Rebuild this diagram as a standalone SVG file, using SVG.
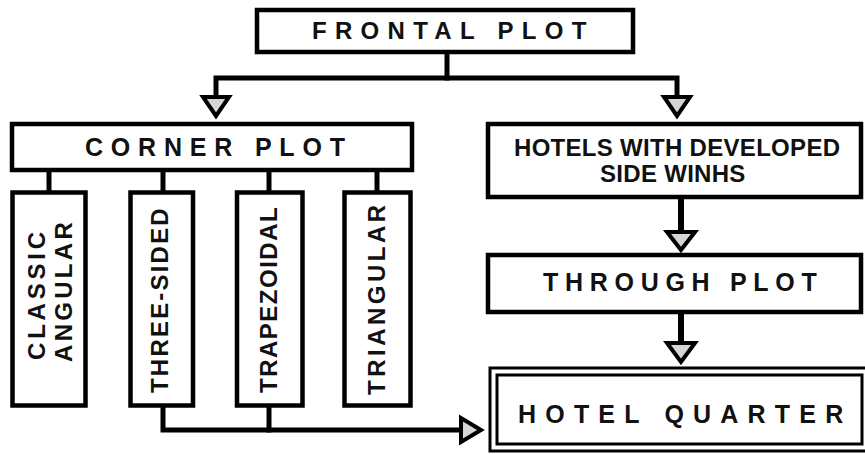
<svg xmlns="http://www.w3.org/2000/svg" width="865" height="454" viewBox="0 0 865 454">
<style>
.box{fill:#fff;stroke:#000;stroke-width:4.5}
.dbl{fill:#fff;stroke:#000;stroke-width:3}
.ln{fill:none;stroke:#000;stroke-width:5;stroke-linecap:square}
.ar{fill:#d6d6d6;stroke:#000;stroke-width:4;stroke-linejoin:miter}
text{font-family:"Liberation Sans",Arial,sans-serif;font-weight:bold;fill:#111}
</style>
<rect width="865" height="454" fill="#fff"/>
<g id="connectors">
<polyline class="ln" points="447,54 447,78"/>
<polyline class="ln" points="216,97 216,78 677,78 677,97"/>
<polygon class="ar" points="203,97 229,97 216,116"/>
<polygon class="ar" points="664,97 690,97 677,116"/>
<line class="ln" x1="49" y1="172" x2="49" y2="190"/>
<line class="ln" x1="163" y1="172" x2="163" y2="190"/>
<line class="ln" x1="269" y1="172" x2="269" y2="190"/>
<line class="ln" x1="377" y1="172" x2="377" y2="190"/>
<polyline class="ln" points="163,409 163,430 460,430"/>
<line class="ln" x1="269" y1="409" x2="269" y2="430"/>
<polygon class="ar" points="461,418 461,442 481,430"/>
<line class="ln" x1="681" y1="199" x2="681" y2="232" style="stroke-width:6"/>
<polygon class="ar" points="667,232 695,232 681,250"/>
<line class="ln" x1="681" y1="314" x2="681" y2="343" style="stroke-width:6"/>
<polygon class="ar" points="667,343 695,343 681,362"/>
</g>
<g id="frontal">
<rect class="box" x="257" y="10" width="376" height="42"/>
<text x="312" y="39" font-size="24" letter-spacing="8.3">FRONTAL PLOT</text>
</g>
<g id="corner">
<rect class="box" x="12" y="124" width="400" height="46"/>
<text x="85" y="156" font-size="25" letter-spacing="7.8">CORNER PLOT</text>
</g>
<g id="classic">
<rect class="box" x="12.5" y="192.5" width="73" height="213"/>
<text transform="translate(45,360) rotate(-90)" font-size="24" letter-spacing="3.8">CLASSIC</text>
<text transform="translate(72,362) rotate(-90)" font-size="24" letter-spacing="3.3">ANGULAR</text>
</g>
<g id="three-sided">
<rect class="box" x="130.5" y="192.5" width="62.5" height="213"/>
<text transform="translate(168,393) rotate(-90)" font-size="24" letter-spacing="2.2">THREE-SIDED</text>
</g>
<g id="trapezoidal">
<rect class="box" x="237" y="192.5" width="65.5" height="213"/>
<text transform="translate(277,393) rotate(-90)" font-size="24" letter-spacing="1.5">TRAPEZOIDAL</text>
</g>
<g id="triangular">
<rect class="box" x="344.5" y="192.5" width="66" height="213"/>
<text transform="translate(385,395) rotate(-90)" font-size="24" letter-spacing="3.5">TRIANGULAR</text>
</g>
<g id="hotels">
<rect class="box" x="488" y="124" width="373" height="73"/>
<text x="514" y="156" font-size="24" letter-spacing="0.3">HOTELS WITH DEVELOPED</text>
<text x="600" y="182" font-size="24" letter-spacing="0.3">SIDE WINHS</text>
</g>
<g id="through">
<rect class="box" x="488" y="255" width="373" height="57"/>
<text x="543" y="291" font-size="25" letter-spacing="6.7">THROUGH PLOT</text>
</g>
<g id="quarter">
<rect class="dbl" x="490" y="368" width="380" height="83"/>
<rect class="dbl" x="497" y="375" width="365" height="69"/>
<text x="518" y="423" font-size="25" letter-spacing="9.2">HOTEL QUARTER</text>
</g>
</svg>
